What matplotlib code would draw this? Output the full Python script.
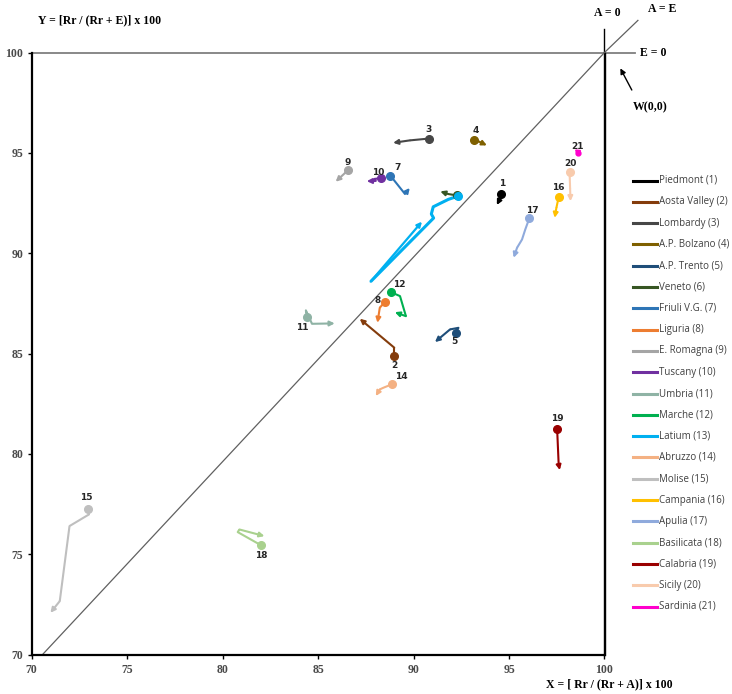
import matplotlib
matplotlib.use("Agg")
import matplotlib.pyplot as plt
from matplotlib.lines import Line2D

# ---------------- data (X = Rr/(Rr+A)*100, Y = Rr/(Rr+E)*100) ----------------
names = ["Piedmont (1)", "Aosta Valley (2)", "Lombardy (3)", "A.P. Bolzano (4)",
         "A.P. Trento (5)", "Veneto (6)", "Friuli V.G. (7)", "Liguria (8)",
         "E. Romagna (9)", "Tuscany (10)", "Umbria (11)", "Marche (12)",
         "Latium (13)", "Abruzzo (14)", "Molise (15)", "Campania (16)",
         "Apulia (17)", "Basilicata (18)", "Calabria (19)", "Sicily (20)",
         "Sardinia (21)"]
numbers = [str(i) for i in range(1, 22)]

x_piedmont = [94.59, 94.55, 94.36]
y_piedmont = [92.97, 92.75, 92.40]
x_aosta = [88.99, 88.99, 87.18]
y_aosta = [84.90, 85.29, 86.73]
x_lombardy = [90.79, 89.8, 88.93]
y_lombardy = [95.71, 95.62, 95.50]
x_bolzano = [93.17, 93.45, 93.84]
y_bolzano = [95.63, 95.55, 95.37]
x_trento = [92.21, 92.35, 91.91, 91.12]
y_trento = [86.03, 86.28, 86.20, 85.57]
x_veneto = [92.25, 91.80, 91.40]
y_veneto = [92.88, 92.95, 93.08]
x_friuli = [88.78, 89.55, 89.80]
y_friuli = [93.87, 92.95, 93.25]
x_liguria = [88.51, 88.23, 88.11]
y_liguria = [87.59, 87.28, 86.53]
x_romagna = [86.57, 85.92]
y_romagna = [94.14, 93.56]
x_tuscany = [88.29, 87.95, 88.02, 87.55]
y_tuscany = [93.74, 93.70, 93.60, 93.59]
x_umbria = [84.41, 84.36, 84.68, 85.87]
y_umbria = [86.81, 87.15, 86.48, 86.50]
x_marche = [88.81, 89.29, 89.60, 89.02]
y_marche = [88.06, 87.86, 86.86, 87.06]
x_latium = [92.32, 91.82, 91.03, 90.93, 91.05, 87.75, 90.44]
y_latium = [92.84, 92.68, 92.31, 91.95, 91.75, 88.58, 91.57]
x_abruzzo = [88.85, 88.41, 88.23, 88.02]
y_abruzzo = [83.46, 83.29, 83.21, 82.88]
x_molise = [72.94, 73.00, 71.98, 71.47, 70.98]
y_molise = [77.23, 76.98, 76.40, 72.66, 72.08]
x_campania = [97.60, 97.48, 97.39]
y_campania = [92.79, 92.26, 91.76]
x_apulia = [96.06, 95.85, 95.68, 95.42, 95.24]
y_apulia = [91.73, 91.18, 90.68, 90.27, 89.77]
x_basilicata = [82.02, 80.79, 80.88, 82.19]
y_basilicata = [75.44, 76.10, 76.23, 75.90]
x_calabria = [97.52, 97.60, 97.66]
y_calabria = [81.22, 79.47, 79.19]
x_sicily = [98.17, 98.20, 98.22]
y_sicily = [94.06, 93.2, 92.59]
x_sardinia = [98.60, 98.58]
y_sardinia = [94.97, 94.80]

xs = [x_piedmont, x_aosta, x_lombardy, x_bolzano, x_trento, x_veneto, x_friuli,
      x_liguria, x_romagna, x_tuscany, x_umbria, x_marche, x_latium, x_abruzzo,
      x_molise, x_campania, x_apulia, x_basilicata, x_calabria, x_sicily, x_sardinia]
ys = [y_piedmont, y_aosta, y_lombardy, y_bolzano, y_trento, y_veneto, y_friuli,
      y_liguria, y_romagna, y_tuscany, y_umbria, y_marche, y_latium, y_abruzzo,
      y_molise, y_campania, y_apulia, y_basilicata, y_calabria, y_sicily, y_sardinia]

colors = ["#000000", "#843C0C", "#474747", "#7F6000", "#1F4E79", "#375623",
          "#2E75B6", "#ED7D31", "#A5A5A5", "#7030A0", "#8FB3A5", "#00B050",
          "#00B0F0", "#F4B183", "#BFBFBF", "#FFC000", "#8FAADC", "#A9D18E",
          "#990000", "#F8CBAD", "#FF00CC"]

# label offsets in pixels (dx right, dy up)
label_off = [(1, 10), (0, -10), (0, 9), (2, 10), (-1, -9), None, (7, 8), (-7, 1),
             (0, 8), (-3, 6), (-5, -10), (8, 8), None, (10, 8), (-2, 12),
             (0, 10), (3, 8), (0, -10), (0, 11), (1, 8), (0, 7)]

xticks = [70, 75, 80, 85, 90, 95, 100]
yticks = [70, 75, 80, 85, 90, 95, 100]

# ---------------- figure ----------------
W, H = 732, 694
fig = plt.figure(figsize=(W / 100, H / 100), dpi=100)
ax = fig.add_axes([31.7 / W, 1 - 654.5 / H, (604.5 - 31.7) / W, (654.5 - 52.5) / H])
ax.set_xlim(70, 100)
ax.set_ylim(70, 100)

serif = "Liberation Serif"
ax.set_xticks(xticks)
ax.set_yticks(yticks)
ax.tick_params(axis="both", length=3, width=1, direction="out", labelsize=8.5,
               colors="#000000", labelcolor="#4a4a4a")
for lab in ax.get_xticklabels() + ax.get_yticklabels():
    lab.set_fontfamily(serif)
    lab.set_fontweight("bold")
ax.tick_params(axis="x", pad=4)
ax.tick_params(axis="y", pad=3)

ax.spines["left"].set_linewidth(1.6)
ax.spines["bottom"].set_linewidth(1.6)
ax.spines["right"].set_linewidth(1.0)
ax.spines["top"].set_visible(False)

# reference lines
ax.plot([70, 101.6], [100, 100], color="#7f7f7f", lw=1.3, clip_on=False, zorder=1)
ax.plot([100, 100], [70, 101.15], color="#000000", lw=1.0, clip_on=False, zorder=1)
ax.plot([70.57, 100, 101.75], [70, 100, 101.6], color="#606060", lw=0.9,
        clip_on=False, zorder=1)

# trajectories
for i, (x, y, c) in enumerate(zip(xs, ys, colors)):
    lw = 2.2 if i == 12 else 1.5
    ax.plot(x[:-1], y[:-1], color=c, lw=lw, solid_capstyle="butt", zorder=3)
    ax.annotate("", xy=(x[-1], y[-1]), xytext=(x[-2], y[-2]),
                arrowprops=dict(arrowstyle="-|>", color=c, lw=lw if i != 12 else 1.6,
                                mutation_scale=7, shrinkA=0, shrinkB=0),
                zorder=3)
    ax.plot([x[0]], [y[0]], marker="o", ms=5.5 if i != 20 else 3.5, color=c,
            zorder=4)
    off = label_off[i]
    if off is not None:
        ax.annotate(numbers[i], xy=(x[0], y[0]), xytext=(off[0] * 0.72, off[1] * 0.72),
                    textcoords="offset points", ha="center", va="center",
                    fontsize=6.5, fontweight="bold", color="#262626",
                    family="DejaVu Sans", zorder=5)

# W(0,0) arrow and annotations
ax.annotate("", xy=(100.83, 99.21), xytext=(101.43, 98.13),
            arrowprops=dict(arrowstyle="-|>", color="black", lw=1.0,
                            mutation_scale=8, shrinkA=0, shrinkB=0),
            annotation_clip=False)


def ftext(px, py, s, **kw):
    fig.text(px / W, 1 - py / H, s, family=serif, fontweight="bold",
             fontsize=8.5, color="#000000", **kw)


ftext(650, 107, "W(0,0)", ha="center", va="center")
ftext(640, 53, "E = 0", ha="left", va="center")
ftext(607, 13, "A = 0", ha="center", va="center")
ftext(662, 9, "A = E", ha="center", va="center")
ftext(100, 20, "Y = [Rr / (Rr + E)] x 100", ha="center", va="center")
ftext(609, 684, "X = [ Rr / (Rr + A)] x 100", ha="center", va="center")

# legend (manual)
for i, (n, c) in enumerate(zip(names, colors)):
    yy = 1 - (180.5 + i * 21.3) / H
    fig.add_artist(Line2D([633 / W, 657 / W], [yy, yy], color=c, lw=2.2,
                          transform=fig.transFigure))
    fig.text(659 / W, yy, n, ha="left", va="center", fontsize=7.0,
             color="#404040", family="Open Sans")

fig.savefig("out.png", dpi=100)
